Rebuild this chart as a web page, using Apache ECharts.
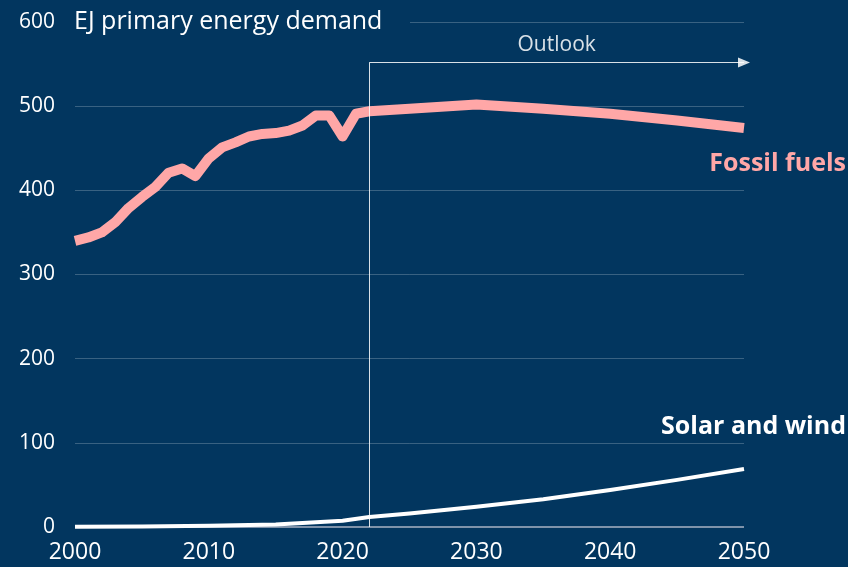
<!DOCTYPE html>
<html>
<head>
<meta charset="utf-8">
<script src="https://cdn.jsdelivr.net/npm/echarts@6/dist/echarts.min.js"></script>
<style>
  html, body { margin: 0; padding: 0; background: #02365f; }
  #chart { width: 848px; height: 567px; }
</style>
</head>
<body>
<div id="chart"></div>
<script>
// years + values
var fossilYears = [2000, 2001, 2002, 2003, 2004, 2005, 2006, 2007, 2008, 2009, 2010,
  2011, 2012, 2013, 2014, 2015, 2016, 2017, 2018, 2019, 2020, 2021, 2022,
  2025, 2030, 2035, 2040, 2045, 2050];
var fossilValues = [340, 344, 350, 362, 379, 392, 404, 421, 426, 417, 438,
  451, 457, 464, 467, 468, 471, 477, 489, 489, 464, 491, 494,
  497, 502, 497, 491, 483, 474];

var solarYears = [2000, 2005, 2010, 2015, 2018, 2020, 2022, 2025, 2030, 2035, 2040, 2045, 2050];
var solarValues = [0.3, 0.6, 1.5, 3, 5.5, 7.5, 12, 16, 24, 33, 44, 56, 69];

var xTicks = { min: 2000, max: 2050, step: 10 };
var yTicks = { min: 0, max: 600, step: 100 };
var outlookStart = 2022;
var outlookLevel = 552;

var bg = '#02365f';
var pink = '#ffa7a7';
var font = 'Open Sans';

function pairs(xs, ys) {
  return xs.map(function (x, i) { return [x, ys[i]]; });
}

var chart = echarts.init(document.getElementById('chart'));

var option = {
  backgroundColor: bg,
  animation: false,
  textStyle: { fontFamily: font },
  grid: { left: 75, right: 104, top: 22, bottom: 40 },
  xAxis: {
    type: 'value',
    min: xTicks.min,
    max: xTicks.max,
    interval: xTicks.step,
    axisLine: { show: false },
    axisTick: { show: false },
    splitLine: { show: false },
    axisLabel: {
      color: '#ffffff', fontSize: 23, margin: 14, fontFamily: font,
      formatter: function (v) { return String(v); }
    }
  },
  yAxis: {
    type: 'value',
    min: yTicks.min,
    max: yTicks.max,
    interval: yTicks.step,
    axisLine: { show: false },
    axisTick: { show: false },
    axisLabel: { color: '#ffffff', fontSize: 21, margin: 20, fontFamily: font },
    splitLine: { lineStyle: { color: 'rgba(255,255,255,0.22)', width: 1 } }
  },
  graphic: [
    {
      type: 'rect', left: 70, top: 6, z: 50,
      shape: { width: 340, height: 34 },
      style: { fill: bg }
    },
    {
      type: 'text', left: 74, top: 9, z: 51,
      style: { text: 'EJ primary energy demand', fill: '#ffffff', font: '25px "Open Sans"' }
    },
    {
      type: 'text', right: 2, top: 151, z: 51,
      style: { text: 'Fossil fuels', fill: pink, font: 'bold 25px "Open Sans"' }
    },
    {
      type: 'text', right: 2, top: 414, z: 51,
      style: { text: 'Solar and wind', fill: '#ffffff', font: 'bold 25px "Open Sans"' }
    }
  ],
  series: [
    {
      name: 'Zero',
      type: 'line',
      data: [[xTicks.min, 0], [xTicks.max, 0]],
      symbol: 'none',
      silent: true,
      lineStyle: { color: '#7f93aa', width: 2 },
      z: 1
    },
    {
      name: 'Fossil fuels',
      type: 'line',
      data: pairs(fossilYears, fossilValues),
      symbol: 'none',
      lineStyle: { color: pink, width: 10, join: 'round', cap: 'butt' },
      z: 3,
      markLine: {
        silent: true,
        symbol: 'none',
        animation: false,
        lineStyle: { color: '#ffffff', width: 1, type: 'solid', opacity: 0.85 },
        data: [
          [
            { coord: [outlookStart, 0] },
            { coord: [outlookStart, outlookLevel] }
          ],
          [
            { coord: [outlookStart, outlookLevel], symbol: 'none' },
            {
              coord: [xTicks.max, outlookLevel], symbol: 'triangle', symbolSize: [10, 12], symbolRotate: -90,
              label: {
                show: true, formatter: 'Outlook', position: 'middle',
                color: '#ffffff', fontSize: 21, fontFamily: font, distance: 7
              }
            }
          ]
        ],
        label: { show: false }
      }
    },
    {
      name: 'Solar and wind',
      type: 'line',
      data: pairs(solarYears, solarValues),
      symbol: 'none',
      lineStyle: { color: '#ffffff', width: 4, join: 'round' },
      z: 4
    }
  ]
};

chart.setOption(option);
</script>
</body>
</html>
